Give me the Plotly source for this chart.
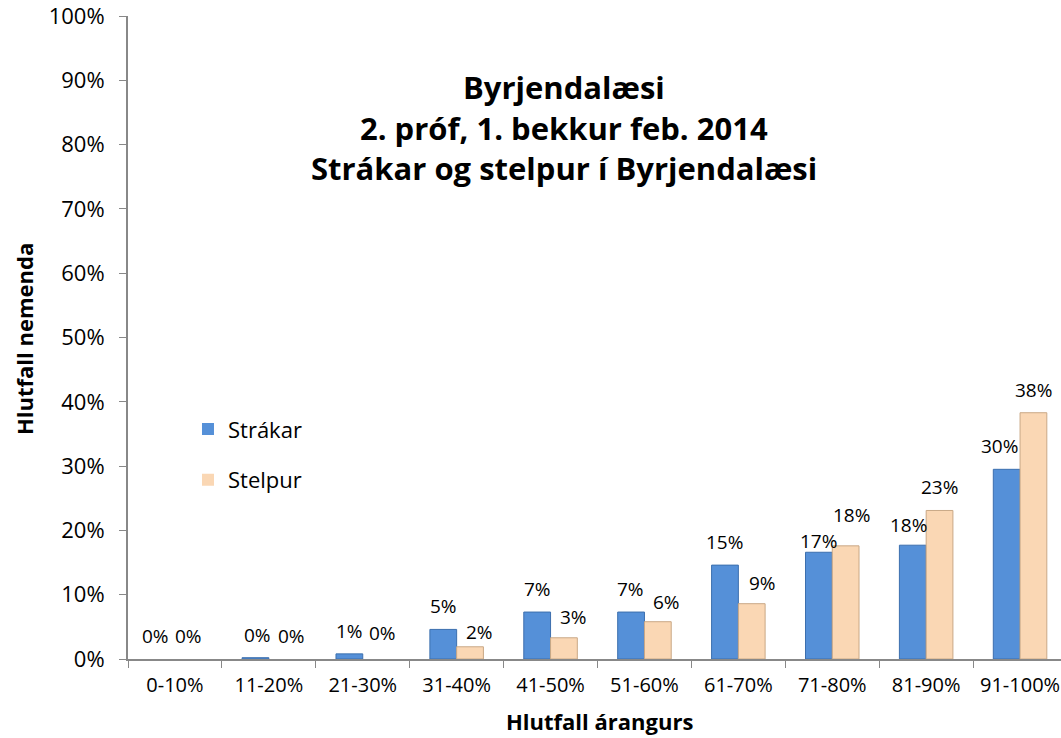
import plotly.graph_objects as go

categories = ["0-10%", "11-20%", "21-30%", "31-40%", "41-50%", "51-60%",
              "61-70%", "71-80%", "81-90%", "91-100%"]
strakar = [0.0, 0.002, 0.008, 0.046, 0.073, 0.073, 0.146, 0.166, 0.177, 0.295]
stelpur = [0.0, 0.0, 0.0, 0.019, 0.033, 0.058, 0.086, 0.176, 0.231, 0.383]
y_ticks = [0, 0.1, 0.2, 0.3, 0.4, 0.5, 0.6, 0.7, 0.8, 0.9, 1.0]
y_tick_labels = ["0%", "10%", "20%", "30%", "40%", "50%", "60%", "70%", "80%", "90%", "100%"]
series_names = ["Strákar", "Stelpur"]

title_lines = ["Byrjendalæsi", "2. próf, 1. bekkur feb. 2014", "Strákar og stelpur í Byrjendalæsi"]

FONT = "Open Sans"
blue = "#5590d8"
blue_line = "#3c6fae"
peach = "#fad7b4"
peach_line = "#c9a886"

# label nudges (pixels) as placed in the original: (series, category index) -> (dx, dy)
label_nudge = {
    (0, 0): (-6, 0), (0, 1): (2, 0), (1, 1): (9, 0), (1, 2): (6, 3), (1, 3): (9, -8),
    (1, 4): (9, -2), (1, 5): (9, -3), (1, 6): (11, -2), (0, 7): (0, -12), (1, 7): (6, 8),
    (0, 8): (-4, -3), (0, 9): (-7, 0),
}

def line_widths(vals):
    return [0 if v == 0 else 1 for v in vals]

fig = go.Figure()
fig.add_trace(go.Bar(x=categories, y=strakar, name=series_names[0],
                     marker=dict(color=blue, line=dict(color=blue_line, width=line_widths(strakar))),
                     legendgroup="a"))
fig.add_trace(go.Bar(x=categories, y=stelpur, name=series_names[1],
                     marker=dict(color=peach, line=dict(color=peach_line, width=line_widths(stelpur))),
                     legendgroup="b"))

annotations = []
for i, c in enumerate(categories):
    for s, (vals, xs) in enumerate(((strakar, -13.5), (stelpur, 13.5))):
        v = vals[i]
        dx, dy = label_nudge.get((s, i), (0, 0))
        annotations.append(dict(x=c, y=v, xref="x", yref="y", text=f"{round(v*100):.0f}%",
                                showarrow=False, xshift=xs + dx, yshift=23 + dy, yanchor="middle",
                                font=dict(family=FONT, size=19, color="#000")))

fig.update_layout(
    width=1061, height=738,
    margin=dict(l=128, r=0, t=16, b=79, autoexpand=False),
    paper_bgcolor="white", plot_bgcolor="white",
    barmode="group", bargap=0.43, bargroupgap=0,
    font=dict(family=FONT, color="#000"),
    showlegend=True,
    legend=dict(x=0.0643, y=0.39, xanchor="left", yanchor="top",
                font=dict(family=FONT, size=22), tracegroupgap=19,
                bgcolor="rgba(0,0,0,0)"),
    xaxis=dict(range=[-0.5, 9.436], tickson="boundaries", ticks="outside", ticklen=7,
               tickcolor="#888", showline=True, linecolor="#888", linewidth=2,
               tickfont=dict(family=FONT, size=20), showgrid=False, fixedrange=True,
               ticklabelstandoff=7, ticklabeloverflow="allow"),
    yaxis=dict(range=[0, 1], tickvals=y_ticks, ticktext=y_tick_labels, ticks="outside",
               ticklen=7, tickcolor="#888", showline=True, linecolor="#888", linewidth=2,
               tickfont=dict(family=FONT, size=22), showgrid=False, zeroline=False,
               ticklabelstandoff=10, ticklabeloverflow="allow"),
)

plot_left, plot_w, plot_top, plot_h = 128, 933, 16, 643
def px_to_paper(px, py):
    return (px - plot_left) / plot_w, (plot_top + plot_h - py) / plot_h

for line, py in zip(title_lines, [87, 128, 168]):
    xp, yp = px_to_paper(564, py)
    annotations.append(dict(x=xp, y=yp, xref="paper", yref="paper", text=f"<b>{line}</b>",
                            showarrow=False, xanchor="center", yanchor="middle",
                            font=dict(family=FONT, size=31, color="#000")))
xp, yp = px_to_paper(599, 721)
annotations.append(dict(x=xp, y=yp, xref="paper", yref="paper", text="<b>Hlutfall árangurs</b>",
                        showarrow=False, xanchor="center", yanchor="middle",
                        font=dict(family=FONT, size=22, color="#000")))
xp, yp = px_to_paper(24, 339)
annotations.append(dict(x=xp, y=yp, xref="paper", yref="paper", text="<b>Hlutfall nemenda</b>",
                        showarrow=False, xanchor="center", yanchor="middle", textangle=-90,
                        font=dict(family=FONT, size=22, color="#000")))

fig.update_layout(annotations=annotations)
fig.write_html("out.html", config={"displayModeBar": False},
               post_script="document.body.style.margin='0';document.body.style.overflow='hidden';")
